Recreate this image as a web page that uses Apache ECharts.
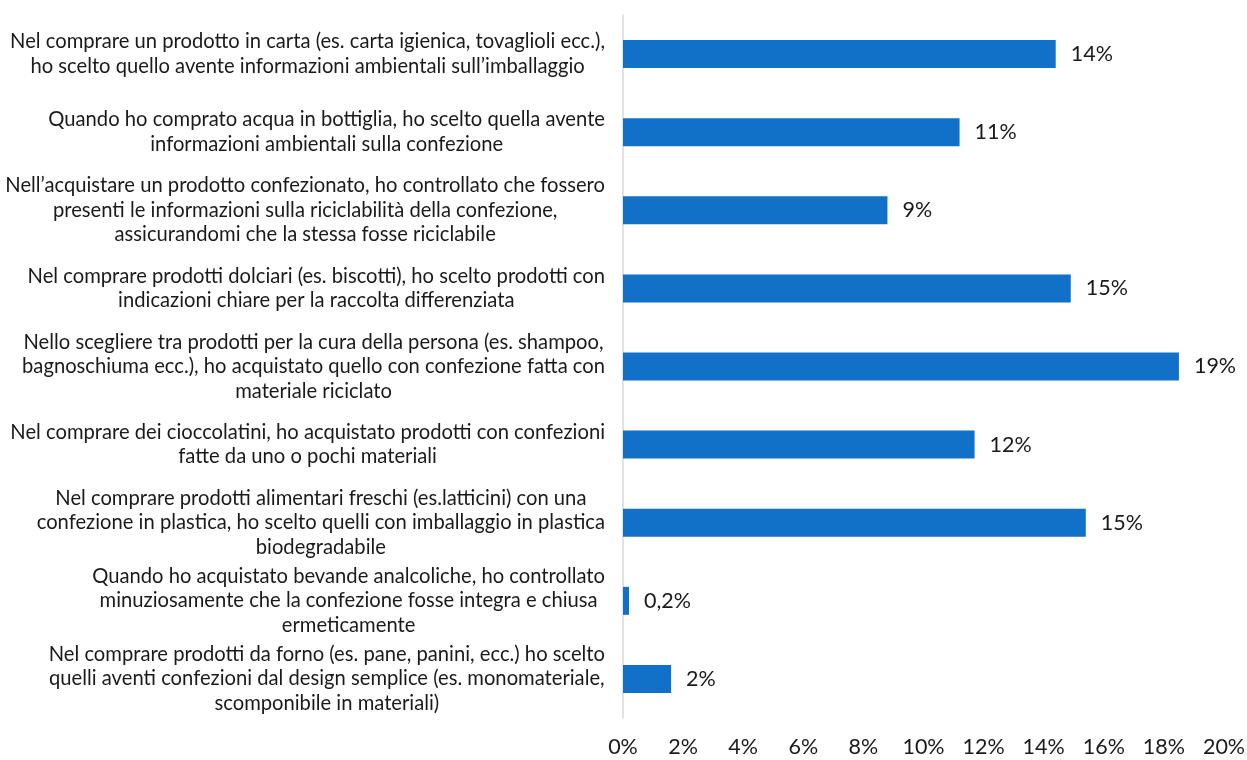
<!DOCTYPE html>
<html>
<head>
<meta charset="utf-8">
<script src="https://cdn.jsdelivr.net/npm/echarts@6/dist/echarts.min.js"></script>
<style>
html,body{margin:0;padding:0;background:#fff;}
#chart{width:1247px;height:760px;}
</style>
</head>
<body>
<div id="chart"></div>
<script>
const categories = [
  "Nel comprare un prodotto in carta (es. carta igienica, tovaglioli ecc.),\nho scelto quello avente informazioni ambientali sull’imballaggio",
  "Quando ho comprato acqua in bottiglia, ho scelto quella avente\ninformazioni ambientali sulla confezione",
  "Nell’acquistare un prodotto confezionato, ho controllato che fossero\npresenti le informazioni sulla riciclabilità della confezione,\nassicurandomi che la stessa fosse riciclabile",
  "Nel comprare prodotti dolciari (es. biscotti), ho scelto prodotti con\nindicazioni chiare per la raccolta differenziata",
  "Nello scegliere tra prodotti per la cura della persona (es. shampoo,\nbagnoschiuma ecc.), ho acquistato quello con confezione fatta con\nmateriale riciclato",
  "Nel comprare dei cioccolatini, ho acquistato prodotti con confezioni\nfatte da uno o pochi materiali",
  "Nel comprare prodotti alimentari freschi (es.latticini) con una\nconfezione in plastica, ho scelto quelli con imballaggio in plastica\nbiodegradabile",
  "Quando ho acquistato bevande analcoliche, ho controllato\nminuziosamente che la confezione fosse integra e chiusa\nermeticamente",
  "Nel comprare prodotti da forno (es. pane, panini, ecc.) ho scelto\nquelli aventi confezioni dal design semplice (es. monomateriale,\nscomponibile in materiali)"
];
const values = [14.4, 11.2, 8.8, 14.9, 18.5, 11.7, 15.4, 0.2, 1.6];
const xTicks = [0, 2, 4, 6, 8, 10, 12, 14, 16, 18, 20];

const FONT = 'Lato';
const chart = echarts.init(document.getElementById('chart'));
chart.setOption({
  animation: false,
  backgroundColor: '#ffffff',
  grid: { left: 623, right: 23, top: 15, bottom: 42, containLabel: false, outerBoundsMode: 'none' },
  xAxis: {
    type: 'value',
    min: xTicks[0],
    max: xTicks[xTicks.length - 1],
    interval: 2,
    axisLine: { show: false },
    axisTick: { show: false },
    splitLine: { show: false },
    axisLabel: {
      margin: 18,
      color: '#1a1a1a',
      fontFamily: FONT,
      fontSize: 21.5,
      formatter: v => v + '%'
    }
  },
  yAxis: {
    type: 'category',
    inverse: true,
    data: categories,
    axisLine: { show: true, lineStyle: { color: '#d9d9d9', width: 1.5 } },
    axisTick: { show: false },
    axisLabel: {
      margin: 18,
      align: 'right',
      color: '#1a1a1a',
      fontFamily: FONT,
      fontSize: 20.2,
      formatter: v => v.split('\n').map(l => '{c|' + l + '}').join('\n'),
      rich: {
        c: { align: 'center', fontFamily: FONT, fontSize: 20.2, lineHeight: 24.5, color: '#1a1a1a' }
      }
    }
  },
  series: [{
    type: 'bar',
    data: values,
    barWidth: 28,
    itemStyle: { color: '#1170c8' },
    label: {
      show: true,
      position: 'right',
      distance: 15,
      color: '#1a1a1a',
      fontFamily: FONT,
      fontSize: 21.5,
      formatter: p => (p.value < 1 ? p.value.toFixed(1).replace('.', ',') : Math.round(p.value)) + '%'
    }
  }]
});
</script>
</body>
</html>
